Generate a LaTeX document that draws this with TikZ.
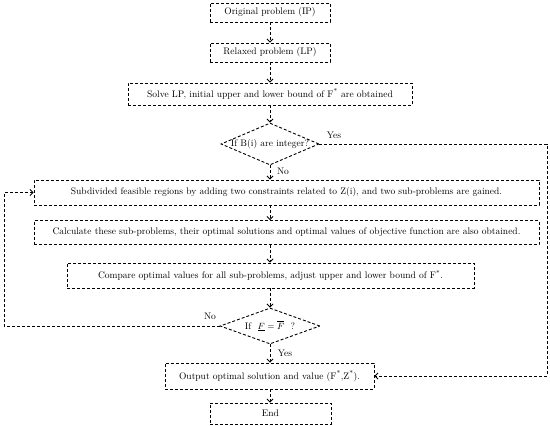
\documentclass[tikz,border=0pt]{standalone}
\usetikzlibrary{shapes.geometric,arrows.meta}
\begin{document}
\begin{tikzpicture}[x=1pt,y=-1pt,
  dsh/.style={dash pattern=on 3pt off 2pt, line width=0.9pt},
  box/.style={draw, dsh, rectangle, inner sep=0pt, font=\fontsize{9.5}{11}\selectfont},
  dia/.style={draw, dsh, diamond, inner sep=0pt},
  lbl/.style={font=\fontsize{9.5}{11}\selectfont, inner sep=1pt},
  arr/.style={dsh, -{Straight Barb[length=3pt,width=6pt]}}
]
\useasboundingbox (0,0) rectangle (550,426);
\node[box, minimum width=120pt, minimum height=19pt] (b1) at (270,12.5) {Original problem (IP)};
\node[box, minimum width=120pt, minimum height=19pt] (b2) at (270,52.5) {Relaxed problem (LP)};
\node[box, minimum width=284pt, minimum height=22pt] (b3) at (270,94) {Solve LP, initial upper and lower bound of F\textsuperscript{*} are obtained};
\node[dia, minimum width=98pt, minimum height=42pt] (d1) at (270,144) {};
\node[lbl] (d1t) at (270,144) {If B(i) are integer?};
\node[box, minimum width=505pt, minimum height=25pt] (b4) at (286.5,192.5) {Subdivided feasible regions by adding two constraints related to Z(i), and two sub-problems are gained.};
\node[box, minimum width=505pt, minimum height=24pt] (b5) at (286.5,232.5) {Calculate these sub-problems, their optimal solutions and optimal values of objective function are also obtained.};
\node[box, minimum width=407pt, minimum height=25pt] (b6) at (270.5,275.5) {Compare optimal values for all sub-problems, adjust upper and lower bound of F\textsuperscript{*}.};
\node[dia, minimum width=100pt, minimum height=36pt] (d2) at (270,326) {};
\node[lbl] (d2t) at (270,326) {If~~$\underline{F}=\overline{F}$~~?};
\node[box, minimum width=209pt, minimum height=26pt] (b7) at (269.5,376) {Output optimal solution and value (F\textsuperscript{*},Z\textsuperscript{*}).};
\node[box, minimum width=121pt, minimum height=21pt] (b8) at (270.5,413.5) {End};
\coordinate (ax) at (270,0);
\draw[arr] (b1.south) -- (b1.south |- b2.north);
\draw[arr] (b2.south) -- (b2.south |- b3.north);
\draw[arr] (b3.south -| ax) -- (d1.north);
\draw[arr] (d1.south) -- (d1.south |- b4.north);
\draw[arr] (b4.south -| ax) -- (b5.north -| ax);
\draw[arr] (b5.south -| ax) -- (b6.north -| ax);
\draw[arr] (b6.south -| ax) -- (d2.north);
\draw[arr] (d2.south) -- (d2.south |- b7.north);
\draw[arr] (b7.south -| ax) -- (b8.north -| ax);
\coordinate (lc) at (4,326);
\coordinate (rc) at (547,144);
\draw[arr] (d2.west) -- (lc) |- (b4.west);
\draw[arr] (d1.east) -- (rc) |- (b7.east);
\node[lbl] (no1) at (283,171) {No};
\node[lbl] (yes1) at (334,135) {Yes};
\node[lbl] (no2) at (210,316) {No};
\node[lbl] (yes2) at (285,353) {Yes};
\end{tikzpicture}
\end{document}
